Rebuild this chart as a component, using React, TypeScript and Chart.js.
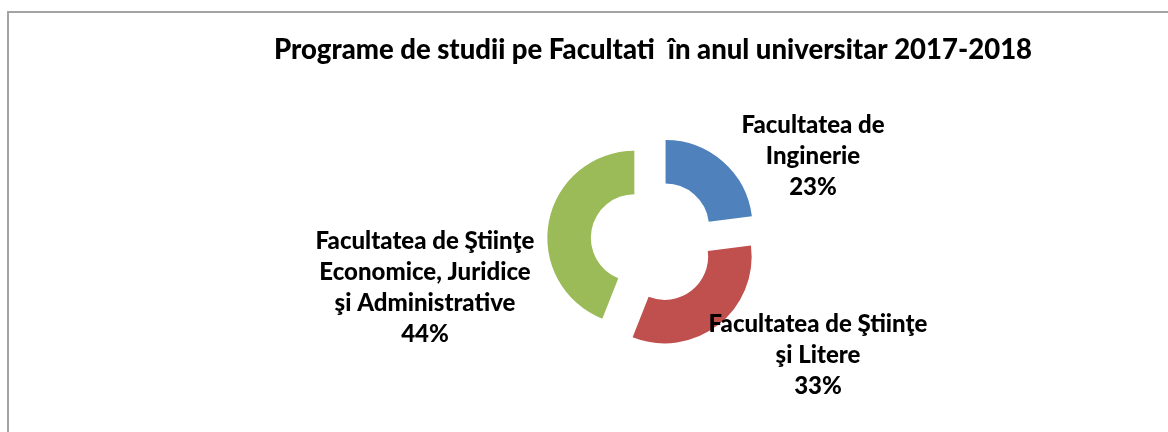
import React, { useEffect, useRef } from "react";
import { Chart, registerables, ArcElement } from "chart.js";

Chart.register(...registerables);

// ---- data ----
const categories: string[][] = [
  ["Facultatea de", "Inginerie"],
  ["Facultatea de Ştiinţe", "şi Litere"],
  ["Facultatea de Ştiinţe", "Economice, Juridice", "şi Administrative"],
];
const values: number[] = [23, 33, 44];
const colors: string[] = ["#4F81BD", "#C0504D", "#9BBB59"];
const titleText = "Programe de studii pe Facultati  în anul universitar 2017-2018";

// label anchor offsets from the doughnut centre (styling, not data)
const labelOffsets: [number, number][] = [
  [160, -85],
  [165, 114],
  [-228, 46],
];

const EXPLODE = 19;
const FONT = "Lato, 'Open Sans', sans-serif";

// explode each arc along its mid angle
const origDraw = (ArcElement.prototype as any).draw;
(ArcElement.prototype as any).draw = function (ctx: CanvasRenderingContext2D) {
  const half = (this.startAngle + this.endAngle) / 2;
  ctx.save();
  ctx.translate(Math.cos(half) * EXPLODE, Math.sin(half) * EXPLODE);
  origDraw.call(this, ctx);
  ctx.restore();
};

const labelPlugin = {
  id: "outerLabels",
  afterDatasetsDraw(chart: any) {
    const ctx: CanvasRenderingContext2D = chart.ctx;
    const meta = chart.getDatasetMeta(0);
    const total = values.reduce((a, b) => a + b, 0);
    ctx.save();
    ctx.fillStyle = "#000";
    ctx.font = `900 24px ${FONT}`;
    ctx.textAlign = "center";
    ctx.textBaseline = "middle";
    meta.data.forEach((arc: any, i: number) => {
      const lines = [...categories[i], Math.round((values[i] / total) * 100) + "%"];
      const cx = arc.x + labelOffsets[i][0];
      const cy = arc.y + labelOffsets[i][1];
      const lh = 31;
      const y0 = cy - ((lines.length - 1) * lh) / 2;
      lines.forEach((t, k) => ctx.fillText(t, cx, y0 + k * lh));
    });
    ctx.restore();
  },
};

export default function App() {
  const ref = useRef<HTMLCanvasElement>(null);
  useEffect(() => {
    if (!ref.current) return;
    const chart = new Chart(ref.current, {
      type: "doughnut",
      data: {
        labels: categories.map((c) => c.join(" ")),
        datasets: [
          {
            data: values,
            backgroundColor: colors,
            borderWidth: 0,
            radius: 87,
            cutout: "50%",
          } as any,
        ],
      },
      options: {
        animation: false,
        responsive: false,
        layout: { padding: { left: 138, right: 0, top: 0, bottom: 24 } },
        plugins: {
          legend: { display: false },
          tooltip: { enabled: false },
          title: {
            display: true,
            text: titleText,
            color: "#000",
            font: { family: FONT, size: 27.5, weight: 900 as any },
            padding: { top: 33.5, bottom: 8.2 },
          },
        },
      },
      plugins: [labelPlugin],
    });
    return () => chart.destroy();
  }, []);
  return (
    <div style={{ position: "absolute", left: 0, top: 0, width: 1168, height: 432, background: "#fff", overflow: "hidden" }}>
      <div
        style={{
          position: "absolute",
          left: 7,
          top: 11,
          width: 1200,
          height: 440,
          borderTop: "2px solid #a3a3a3",
          borderLeft: "2px solid #a3a3a3",
        }}
      />
      <canvas ref={ref} width={1168} height={432} style={{ position: "absolute", left: 0, top: 0, width: 1168, height: 432 }} />
    </div>
  );
}
